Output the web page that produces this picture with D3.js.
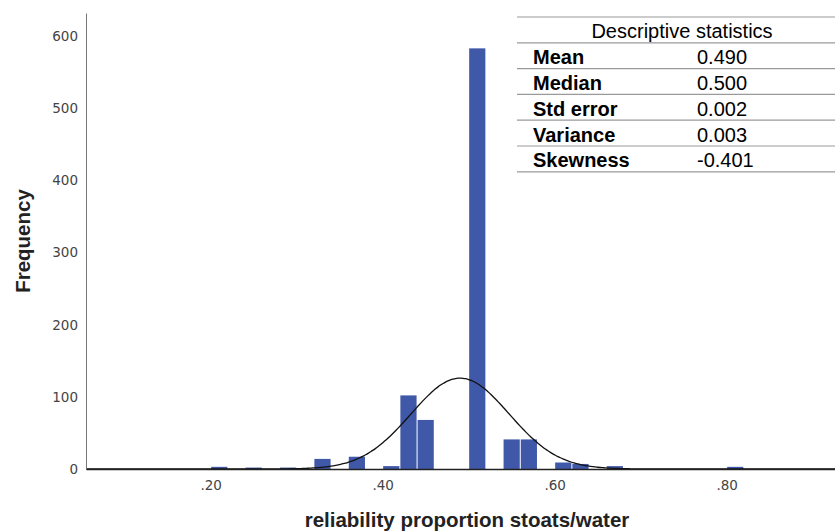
<!DOCTYPE html>
<html>
<head>
<meta charset="utf-8">
<script src="https://cdn.jsdelivr.net/npm/d3@7"></script>
<style>
  body { margin: 0; background: #fff; }
  .tick text { fill: #444; font-family: "DejaVu Sans", sans-serif; font-size: 13.5px; }
</style>
</head>
<body>
<div id="chart"></div>
<script>
// Histogram data: left edge of each non-empty bin and its frequency
const BIN_START = [0.20, 0.24, 0.28, 0.32, 0.36, 0.40, 0.42, 0.44, 0.50, 0.54, 0.56, 0.60, 0.62, 0.66, 0.80];
const BIN_COUNT = [3, 2, 2, 14, 17, 4, 102, 68, 583, 41, 41, 9, 7, 4, 3];
const BIN_WIDTH = 0.02;

const X_TICKS = [0.20, 0.40, 0.60, 0.80];
const Y_TICKS = [0, 100, 200, 300, 400, 500, 600];

// Normal curve parameters
const CURVE_MEAN = 0.49;
const CURVE_SD = 0.057;

// Descriptive statistics table
const STAT_LABELS = ["Mean", "Median", "Std error", "Variance", "Skewness"];
const STAT_VALUES = ["0.490", "0.500", "0.002", "0.003", "-0.401"];

// Frame dimensions
const FRAME_WIDTH = 835;
const FRAME_HEIGHT = 532;
const PLOT = {left: 86, right: 835, top: 13, bottom: 469};

const svg = d3.select("#chart")
              .append("svg")
                .attr("width", FRAME_WIDTH)
                .attr("height", FRAME_HEIGHT);

const X_SCALE = d3.scaleLinear()
                  .domain([0.055, 0.926])
                  .range([PLOT.left, PLOT.right]);

const Y_SCALE = d3.scaleLinear()
                  .domain([0, 632])
                  .range([PLOT.bottom, PLOT.top]);

const data = BIN_START.map((s, i) => ({start: s, count: BIN_COUNT[i]}));

// Bars
svg.selectAll(".bar")
   .data(data)
   .enter()
   .append("rect")
     .attr("class", "bar")
     .attr("x", (d) => X_SCALE(d.start) + 0.5)
     .attr("y", (d) => Y_SCALE(d.count))
     .attr("width", (d) => X_SCALE(d.start + BIN_WIDTH) - X_SCALE(d.start) - 1)
     .attr("height", (d) => Y_SCALE(0) - Y_SCALE(d.count))
     .attr("fill", "#4058a8");

// Normal curve scaled to the histogram
const N = d3.sum(BIN_COUNT);
const curvePts = d3.range(0, 301).map((i) => {
  const v = X_SCALE.domain()[0] + (X_SCALE.domain()[1] - X_SCALE.domain()[0]) * i / 300;
  const z = (v - CURVE_MEAN) / CURVE_SD;
  return [v, N * BIN_WIDTH * Math.exp(-0.5 * z * z) / (CURVE_SD * Math.sqrt(2 * Math.PI))];
});

svg.append("path")
   .datum(curvePts)
   .attr("fill", "none")
   .attr("stroke", "#111")
   .attr("stroke-width", 1.3)
   .attr("d", d3.line().x((d) => X_SCALE(d[0])).y((d) => Y_SCALE(d[1])).curve(d3.curveBasis));

// X axis
const xAxis = svg.append("g")
   .attr("transform", "translate(0," + PLOT.bottom + ")")
   .call(d3.axisBottom(X_SCALE)
           .tickValues(X_TICKS)
           .tickSize(0)
           .tickPadding(11)
           .tickFormat((d) => d3.format(".2f")(d).replace(/^0/, "")));
xAxis.select(".domain").attr("stroke", "#222").attr("stroke-width", 1.5);

// Y axis
const yAxis = svg.append("g")
   .attr("transform", "translate(" + PLOT.left + ",0)")
   .call(d3.axisLeft(Y_SCALE)
           .tickValues(Y_TICKS)
           .tickSize(0)
           .tickPadding(8));
yAxis.select(".domain").attr("stroke", "#777").attr("stroke-width", 1);

// Axis titles
svg.append("text")
   .attr("x", 467)
   .attr("y", 527)
   .attr("text-anchor", "middle")
   .attr("font-family", "Liberation Sans, Arial, sans-serif")
   .attr("font-weight", "bold")
   .attr("font-size", "20.5px")
   .attr("fill", "#222")
   .text("reliability proportion stoats/water");

svg.append("text")
   .attr("transform", "translate(30,241) rotate(-90)")
   .attr("text-anchor", "middle")
   .attr("font-family", "Liberation Sans, Arial, sans-serif")
   .attr("font-weight", "bold")
   .attr("font-size", "20.5px")
   .attr("fill", "#222")
   .text("Frequency");

// Statistics table
const TABLE = {left: 517, right: 835, top: 17, row: 25.8};
const table = svg.append("g").attr("font-family", "Liberation Sans, Arial, sans-serif")
                 .attr("font-size", "20px").attr("fill", "#000");

d3.range(STAT_LABELS.length + 2).forEach((i) => {
  table.append("line")
       .attr("x1", TABLE.left).attr("x2", TABLE.right)
       .attr("y1", TABLE.top + i * TABLE.row).attr("y2", TABLE.top + i * TABLE.row)
       .attr("stroke", "#9a9a9a").attr("stroke-width", 1.2);
});

table.append("text")
     .attr("x", 682)
     .attr("y", TABLE.top + TABLE.row - 4.5)
     .attr("text-anchor", "middle")
     .text("Descriptive statistics");

STAT_LABELS.forEach((lab, i) => {
  const yb = TABLE.top + (i + 2) * TABLE.row - 4.5;
  table.append("text").attr("x", 533).attr("y", yb).attr("font-weight", "bold").text(lab);
  table.append("text").attr("x", 697).attr("y", yb).text(STAT_VALUES[i]);
});
</script>
</body>
</html>
